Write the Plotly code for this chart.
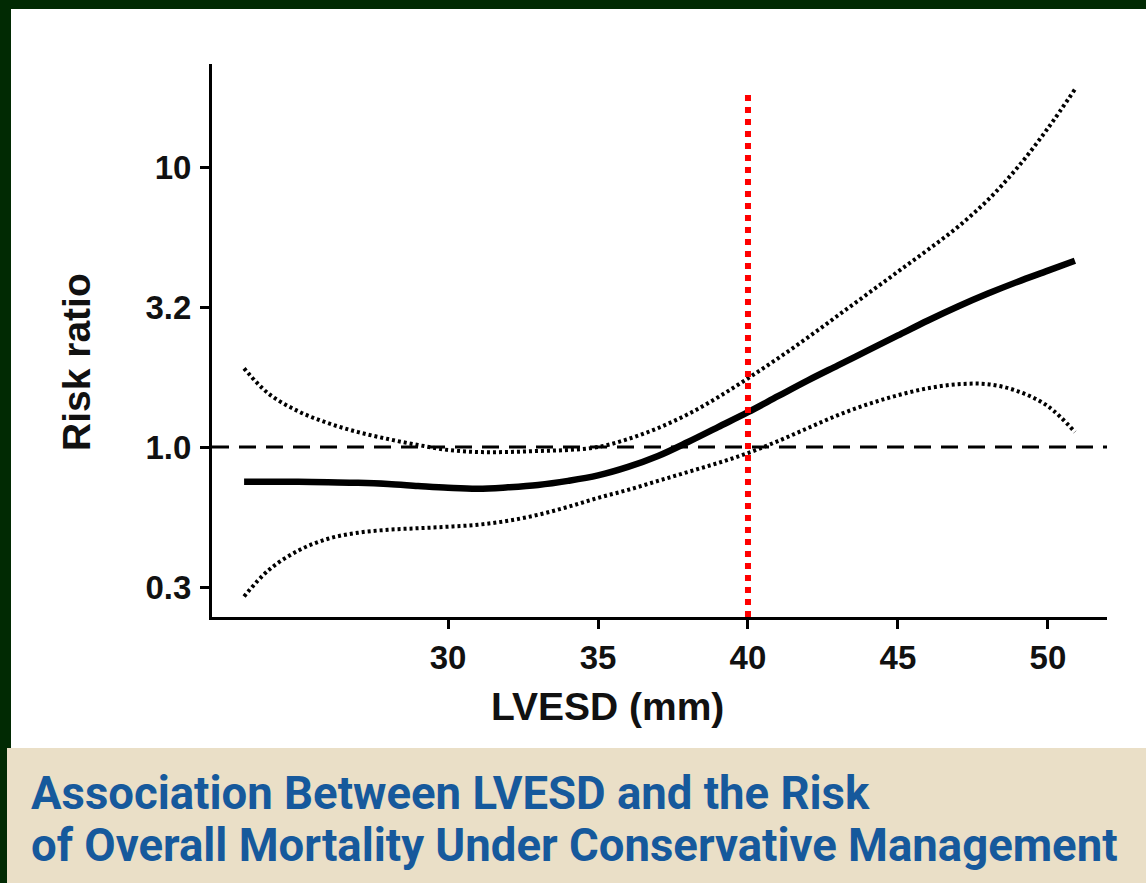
import plotly.graph_objects as go

# ---------------- data ----------------
lvesd = [23.2, 24, 25, 26, 27, 28, 29, 30, 31, 32, 33, 34, 35, 36, 37, 38, 39,
         40, 41, 42, 43, 44, 45, 46, 47, 48, 49, 50, 50.9]
rr_estimate = [0.751, 0.751, 0.751, 0.748, 0.745, 0.738, 0.726, 0.715, 0.709, 0.718,
               0.732, 0.757, 0.792, 0.849, 0.929, 1.042, 1.178, 1.332, 1.519, 1.731,
               1.958, 2.214, 2.504, 2.831, 3.176, 3.532, 3.896, 4.265, 4.63]
rr_upper = [1.910, 1.556, 1.343, 1.217, 1.131, 1.068, 1.017, 0.976, 0.960, 0.960,
            0.968, 0.976, 1.0, 1.068, 1.169, 1.310, 1.506, 1.760, 2.074, 2.463,
            2.950, 3.532, 4.230, 5.066, 6.116, 7.630, 10.0, 13.76, 18.95]
rr_lower = [0.2925, 0.362, 0.4264, 0.4705, 0.4943, 0.5066, 0.5128, 0.5193, 0.5279,
            0.5455, 0.5728, 0.6114, 0.6583, 0.7030, 0.757, 0.8147, 0.877, 0.952,
            1.050, 1.169, 1.300, 1.422, 1.531, 1.622, 1.676, 1.676, 1.582, 1.399, 1.131]

x_ticks = [30, 35, 40, 45, 50]
y_tickvals = [10 ** -0.5, 1.0, 10 ** 0.5, 10.0]
y_ticktext = ["0.3", "1.0", "3.2", "10"]

x_range = [22.13, 51.97]
y_range_log = [-0.607, 1.368]
reference_rr = 1.0
cutoff_mm = 40
cutoff_top_rr = 18.2

caption_line1 = "Association Between LVESD and the Risk"
caption_line2 = "of Overall Mortality Under Conservative Management"

# ---------------- layout helpers ----------------
W_FIG, H_FIG = 1146, 883
L, R, T, B = 212, 1107, 64, 617
PW, PH = R - L, B - T


def pxx(x):
    return (x - L) / PW


def pxy(y):
    return (B - y) / PH


fig = go.Figure()

# reference line at RR = 1
fig.add_trace(go.Scatter(x=x_range, y=[reference_rr, reference_rr], mode="lines",
                         line=dict(color="black", width=3, dash="17px,10px"),
                         hoverinfo="skip", cliponaxis=False))
# confidence limits
fig.add_trace(go.Scatter(x=lvesd, y=rr_upper, mode="lines", line_shape="spline",
                         line=dict(color="black", width=4, dash="3px,3px")))
fig.add_trace(go.Scatter(x=lvesd, y=rr_lower, mode="lines", line_shape="spline",
                         line=dict(color="black", width=4, dash="3px,3px")))
# estimate
fig.add_trace(go.Scatter(x=lvesd, y=rr_estimate, mode="lines", line_shape="spline",
                         line=dict(color="black", width=6.5)))
# cutoff line at 40 mm
fig.add_trace(go.Scatter(x=[cutoff_mm, cutoff_mm], y=[10 ** y_range_log[0], cutoff_top_rr],
                         mode="lines", line=dict(color="#ff0000", width=6, dash="6px,6px"),
                         cliponaxis=False))

tick_font = dict(family="Liberation Sans, Arial, sans-serif", size=33, color="#111",
                 weight="bold")

fig.update_xaxes(range=x_range, tickvals=x_ticks, ticks="outside", ticklen=9,
                 tickwidth=3, tickcolor="black", showline=True, linecolor="black",
                 linewidth=3, showgrid=False, zeroline=False, tickfont=tick_font)
fig.update_yaxes(type="log", range=y_range_log, tickvals=y_tickvals,
                 ticktext=y_ticktext, ticks="outside", ticklen=9, tickwidth=3,
                 tickcolor="black", showline=True, linecolor="black", linewidth=3,
                 showgrid=False, zeroline=False, tickfont=tick_font,
                 ticklabelstandoff=2)

shapes = [
    dict(type="rect", xref="paper", yref="paper", layer="below",
         x0=pxx(11), x1=pxx(W_FIG + 5), y0=pxy(748), y1=pxy(9),
         fillcolor="white", line=dict(width=0)),
    dict(type="rect", xref="paper", yref="paper", layer="below",
         x0=pxx(7), x1=pxx(W_FIG + 5), y0=pxy(H_FIG + 5), y1=pxy(748),
         fillcolor="#eadfc7", line=dict(width=0)),
]

title_font = dict(family="Liberation Sans, Arial, sans-serif", size=39, color="#111",
                  weight="bold")
cap_font = dict(family="Roboto, Liberation Sans, sans-serif",
                size=45.5, color="#16599c", weight="bold")

annotations = [
    dict(text="LVESD (mm)", xref="paper", yref="paper", x=pxx(607), y=pxy(706),
         xanchor="center", yanchor="middle", showarrow=False, font=title_font),
    dict(text="Risk ratio", xref="paper", yref="paper", x=pxx(76), y=pxy(362),
         xanchor="center", yanchor="middle", showarrow=False, font=title_font,
         textangle=-90),
    dict(text=caption_line1, xref="paper", yref="paper", x=pxx(29), y=pxy(793),
         xanchor="left", yanchor="middle", showarrow=False, font=cap_font),
    dict(text=caption_line2, xref="paper", yref="paper", x=pxx(29), y=pxy(845),
         xanchor="left", yanchor="middle", showarrow=False, font=cap_font),
]

fig.update_layout(width=W_FIG, height=H_FIG, autosize=False,
                  margin=dict(l=L, r=W_FIG - R, t=T, b=H_FIG - B, pad=0),
                  paper_bgcolor="#012a03", plot_bgcolor="white",
                  showlegend=False, shapes=shapes, annotations=annotations)

fig.write_html("out.html")
